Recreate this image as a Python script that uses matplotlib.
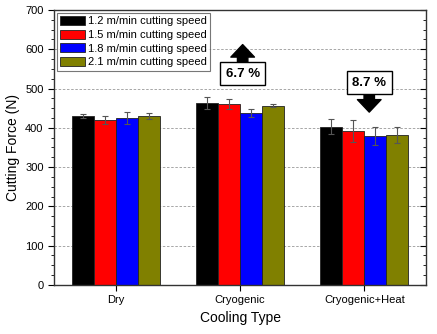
import numpy as np
import matplotlib
matplotlib.use('Agg')
import matplotlib.pyplot as plt
from matplotlib.patches import FancyArrowPatch
from matplotlib.ticker import MultipleLocator

plt.rcParams['font.family'] = ['Liberation Sans', 'DejaVu Sans']

cooling = ['Dry', 'Cryogenic', 'Cryogenic+Heat']
speeds = ['1.2 m/min cutting speed', '1.5 m/min cutting speed',
          '1.8 m/min cutting speed', '2.1 m/min cutting speed']
colors = ['#000000', '#ff0000', '#0000ff', '#808000']

force_12 = [430, 464, 403]
force_15 = [421, 461, 392]
force_18 = [425, 438, 379]
force_21 = [431, 456, 382]
err_12 = [5, 15, 19]
err_15 = [10, 13, 28]
err_18 = [15, 10, 23]
err_21 = [8, 4, 21]

forces = [force_12, force_15, force_18, force_21]
errs = [err_12, err_15, err_18, err_21]

fig = plt.figure(figsize=(4.37, 3.34), dpi=100)
ax = fig.add_axes([0.1236, 0.147, 0.852, 0.823])

x = np.arange(len(cooling))
w = 0.178
for i in range(4):
    ax.bar(x + (i - 1.5) * w, forces[i], w, color=colors[i], edgecolor='#222222',
           linewidth=0.6, label=speeds[i], zorder=2,
           yerr=errs[i], ecolor='#555555',
           error_kw=dict(elinewidth=0.8, capsize=2.5, capthick=0.8, zorder=3))

ax.set_xlim(-0.5, 2.5)
ax.set_ylim(0, 700)
ax.set_xticks(x)
ax.set_xticklabels(cooling, fontsize=8)
ax.yaxis.set_major_locator(MultipleLocator(100))
ax.yaxis.set_minor_locator(MultipleLocator(25))
ax.tick_params(axis='y', which='both', direction='out', labelsize=8, right=True)
ax.tick_params(axis='y', which='major', length=4)
ax.tick_params(axis='y', which='minor', length=2)
ax.tick_params(axis='x', direction='out', length=4)
# right side ticks point inward
for t in ax.yaxis.get_major_ticks() + ax.yaxis.get_minor_ticks():
    t.tick2line.set_marker(matplotlib.lines.TICKLEFT)
ax.yaxis.grid(True, linestyle=(0, (3, 2)), color='#999999', linewidth=0.6, zorder=0)
ax.set_axisbelow(True)
for s in ax.spines.values():
    s.set_linewidth(1.0)
    s.set_color('#333333')

ax.set_xlabel('Cooling Type', fontsize=10)
ax.set_ylabel('Cutting Force (N)', fontsize=10, labelpad=4)

leg = ax.legend(loc='upper left', fontsize=8, fancybox=False, edgecolor='#555555',
                handlelength=2.2, handleheight=0.85, borderaxespad=0.25,
                borderpad=0.3, labelspacing=0.3, handletextpad=0.3)
leg.get_frame().set_linewidth(0.8)

box = dict(boxstyle='square,pad=0.4', fc='white', ec='black', lw=1)
ax.text(1.02, 538, '6.7 %', ha='center', va='center', fontsize=9.5,
        fontweight='bold', bbox=box, zorder=5)
ax.text(2.04, 515, '8.7 %', ha='center', va='center', fontsize=9.5,
        fontweight='bold', bbox=box, zorder=5)

arrow_style = 'simple,head_width=17,head_length=9,tail_width=7.5'
ax.add_patch(FancyArrowPatch((1.02, 563), (1.02, 612), arrowstyle=arrow_style,
                             mutation_scale=1, color='black', zorder=4,
                             shrinkA=0, shrinkB=0))
ax.add_patch(FancyArrowPatch((2.04, 490), (2.04, 440), arrowstyle=arrow_style,
                             mutation_scale=1, color='black', zorder=4,
                             shrinkA=0, shrinkB=0))

plt.savefig('out.png', dpi=100)
